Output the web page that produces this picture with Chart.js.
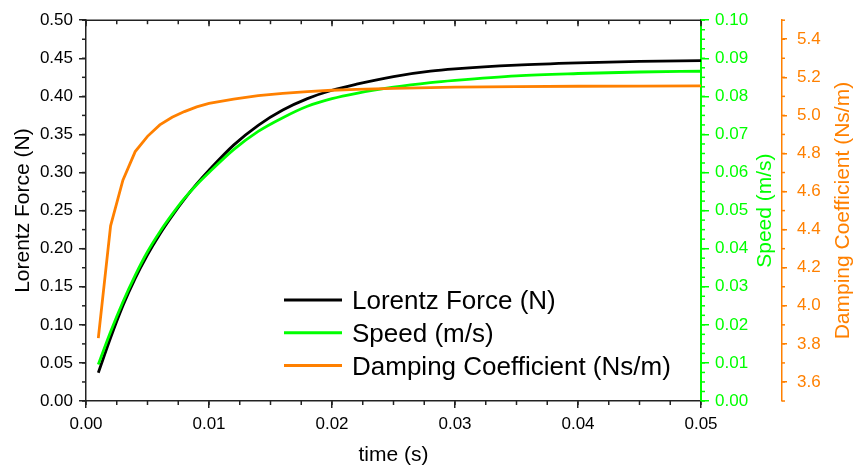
<!DOCTYPE html>
<html>
<head>
<meta charset="utf-8">
<script src="https://cdn.jsdelivr.net/npm/chart.js@4.4.1/dist/chart.umd.min.js"></script>
<style>
  html, body { margin: 0; padding: 0; background: #fff; }
</style>
</head>
<body>
<canvas id="chart" width="853" height="466"></canvas>
<script>
// data
const TIME = [0.001, 0.002, 0.003, 0.004, 0.005, 0.006, 0.007, 0.008, 0.009, 0.010,
              0.012, 0.014, 0.016, 0.018, 0.020, 0.022, 0.025, 0.028, 0.030, 0.035,
              0.040, 0.045, 0.050];
const FORCE = [0.037, 0.083, 0.125, 0.161, 0.192, 0.219, 0.243, 0.265, 0.285, 0.303,
               0.336, 0.362, 0.382, 0.397, 0.408, 0.416, 0.426, 0.433, 0.436, 0.441,
               0.444, 0.446, 0.447];
const SPEED = [0.0096, 0.0182, 0.0260, 0.0330, 0.0392, 0.0444, 0.0490, 0.0532, 0.0568, 0.0600,
               0.0660, 0.0708, 0.0744, 0.0774, 0.0794, 0.0808, 0.0824, 0.0836, 0.0842, 0.0854,
               0.0860, 0.0864, 0.0866];
const DAMPING = [3.83, 4.42, 4.66, 4.81, 4.89, 4.95, 4.99, 5.02, 5.045, 5.063,
                 5.086, 5.104, 5.116, 5.125, 5.132, 5.137, 5.142, 5.146, 5.148, 5.151,
                 5.153, 5.154, 5.155];

const X_TICKS = [0, 0.01, 0.02, 0.03, 0.04, 0.05];
const FORCE_TICKS = [0, 0.05, 0.1, 0.15, 0.2, 0.25, 0.3, 0.35, 0.4, 0.45, 0.5];
const SPEED_TICKS = [0, 0.01, 0.02, 0.03, 0.04, 0.05, 0.06, 0.07, 0.08, 0.09, 0.1];
const DAMPING_TICKS = [3.6, 3.8, 4.0, 4.2, 4.4, 4.6, 4.8, 5.0, 5.2, 5.4];

const FONT = 'Liberation Sans, Arial, sans-serif';
const BLACK = '#000000';
const GREEN = '#00ff00';
const ORANGE = '#ff8000';

const pts = (ys) => TIME.map((t, i) => ({ x: t, y: ys[i] }));
const setTicks = (list) => (scale) => { scale.ticks = list.map(v => ({ value: v })); };

// minor ticks, top frame, right-hand titles and in-plot legend
const extras = {
  id: 'extras',
  afterDraw(chart) {
    const ctx = chart.ctx;
    const ca = chart.chartArea;
    const s = chart.scales;
    ctx.save();

    function minor(scale, step, drawFn) {
      const n = Math.round((scale.max - scale.min) / step);
      for (let i = 0; i <= n; i++) drawFn(scale.getPixelForValue(scale.min + i * step));
    }
    function seg(color, w, x1, y1, x2, y2) {
      ctx.strokeStyle = color;
      ctx.lineWidth = w;
      ctx.beginPath();
      ctx.moveTo(x1, y1);
      ctx.lineTo(x2, y2);
      ctx.stroke();
    }
    function vTitle(text, color, x) {
      ctx.save();
      ctx.translate(x, (ca.top + ca.bottom) / 2);
      ctx.rotate(-Math.PI / 2);
      ctx.font = '21px ' + FONT;
      ctx.fillStyle = color;
      ctx.textAlign = 'center';
      ctx.textBaseline = 'middle';
      ctx.fillText(text, 0, 0);
      ctx.restore();
    }

    // x minor (bottom, outward) + top frame with inward ticks
    minor(s.x, 0.0025, px => {
      seg('#222', 1.5, px, ca.bottom, px, ca.bottom + 4);
      seg('#222', 1.5, px, ca.top, px, ca.top + 4);
    });
    X_TICKS.forEach(v => {
      const px = s.x.getPixelForValue(v);
      seg('#222', 1.5, px, ca.top, px, ca.top + 6);
    });
    seg('#222', 1.5, ca.left, ca.top, ca.right, ca.top);

    // left minor
    minor(s.y, 0.025, py => seg('#222', 1.5, ca.left - 4, py, ca.left, py));
    // green minor
    minor(s.y1, 0.0025, py => seg(GREEN, 1.5, s.y1.left, py, s.y1.left + 4, py));
    // orange minor
    minor(s.y2, 0.1, py => seg(ORANGE, 1.5, s.y2.left, py, s.y2.left + 3, py));

    vTitle('Speed (m/s)', GREEN, 765);
    vTitle('Damping Coefficient (Ns/m)', ORANGE, 843);

    // legend
    const items = chart.data.datasets;
    ctx.font = '26px ' + FONT;
    ctx.textBaseline = 'alphabetic';
    ctx.textAlign = 'left';
    items.forEach((d, i) => {
      const ly = 300 + i * 32.8;
      seg(d.borderColor, 3, 284, ly, 342, ly);
      ctx.fillStyle = '#000';
      ctx.fillText(d.label, 352, ly + 9);
    });
    ctx.restore();
  }
};

const tickFont = { family: FONT, size: 17 };
const titleFont = { family: FONT, size: 21, lineHeight: 1 };

new Chart(document.getElementById('chart'), {
  type: 'line',
  data: {
    datasets: [
      { label: 'Lorentz Force (N)', data: pts(FORCE), yAxisID: 'y', borderColor: BLACK,
        borderWidth: 2.8, pointRadius: 0, cubicInterpolationMode: 'monotone', order: 3 },
      { label: 'Speed (m/s)', data: pts(SPEED), yAxisID: 'y1', borderColor: GREEN,
        borderWidth: 2.8, pointRadius: 0, cubicInterpolationMode: 'monotone', order: 2 },
      { label: 'Damping Coefficient (Ns/m)', data: pts(DAMPING), yAxisID: 'y2', borderColor: ORANGE,
        borderWidth: 2.8, pointRadius: 0, tension: 0, order: 1 }
    ]
  },
  options: {
    responsive: false,
    devicePixelRatio: 1,
    animation: false,
    layout: { padding: { top: 18, left: 0, right: 0, bottom: 0 } },
    plugins: { legend: { display: false }, tooltip: { enabled: false } },
    scales: {
      x: {
        type: 'linear', position: 'bottom', min: 0, max: 0.05,
        afterBuildTicks: setTicks(X_TICKS),
        afterFit: (sc) => { sc.height = 65; },
        ticks: { callback: v => v.toFixed(2), font: tickFont, color: '#000', padding: 6,
                 maxRotation: 0, autoSkip: false },
        grid: { drawOnChartArea: false, drawTicks: true, tickLength: 7, color: '#222', lineWidth: 1.5 },
        border: { color: '#222', width: 1.5 },
        title: { display: true, text: 'time (s)', font: titleFont, color: '#000',
                 padding: { top: 0, bottom: 0 } }
      },
      y: {
        type: 'linear', position: 'left', min: 0, max: 0.5,
        afterBuildTicks: setTicks(FORCE_TICKS),
        afterFit: (sc) => { sc.width = 86; },
        ticks: { callback: v => v.toFixed(2), font: tickFont, color: '#000', padding: 6 },
        grid: { drawOnChartArea: false, drawTicks: true, tickLength: 7, color: '#222', lineWidth: 1.5 },
        border: { color: '#222', width: 1.5 },
        title: { display: true, text: 'Lorentz Force (N)', font: titleFont, color: '#000',
                 padding: { top: 13, bottom: 0 } }
      },
      y1: {
        type: 'linear', position: 'right', weight: 1, min: 0, max: 0.1,
        afterBuildTicks: setTicks(SPEED_TICKS),
        afterFit: (sc) => { sc.width = 81; },
        ticks: { callback: v => v.toFixed(2), font: tickFont, color: GREEN, padding: 6 },
        grid: { drawOnChartArea: false, drawTicks: true, tickLength: 8, color: GREEN, lineWidth: 1.5 },
        border: { color: GREEN, width: 2 },
        title: { display: false }
      },
      y2: {
        type: 'linear', position: 'right', weight: 2, min: 3.5, max: 5.5,
        afterBuildTicks: setTicks(DAMPING_TICKS),
        afterFit: (sc) => { sc.width = 71; },
        ticks: { callback: v => v.toFixed(1), font: tickFont, color: ORANGE, padding: 10 },
        grid: { drawOnChartArea: false, drawTicks: true, tickLength: 5, color: ORANGE, lineWidth: 1.5 },
        border: { color: ORANGE, width: 1.5 },
        title: { display: false }
      }
    }
  },
  plugins: [extras]
});
</script>
</body>
</html>
